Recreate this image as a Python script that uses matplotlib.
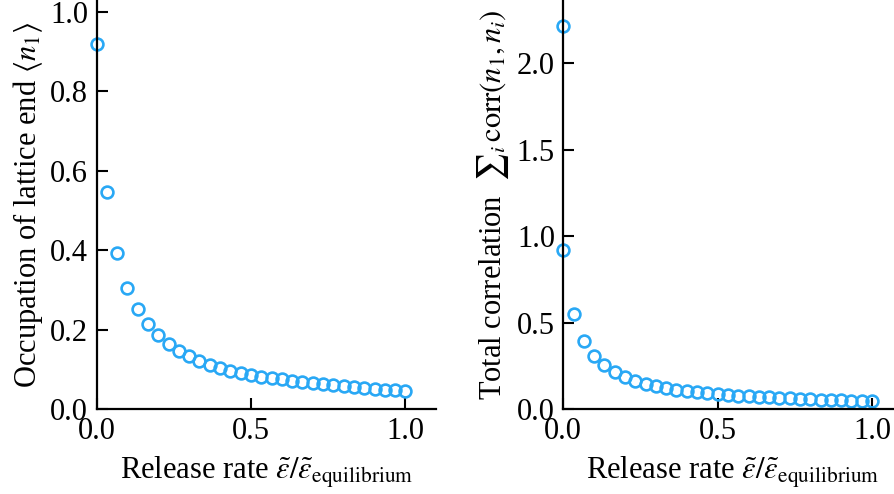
import matplotlib
matplotlib.use("Agg")
import matplotlib.pyplot as plt
import numpy as np

# data
rate = [i / 30 for i in range(31)]
occupation = [0.918, 0.547, 0.393, 0.306, 0.253, 0.215, 0.187, 0.164, 0.147, 0.133,
              0.122, 0.112, 0.104, 0.097, 0.091, 0.086, 0.081, 0.078, 0.075, 0.071,
              0.068, 0.065, 0.062, 0.060, 0.057, 0.055, 0.053, 0.050, 0.049, 0.047,
              0.045]
rate_corr = [0.0] + rate
corr_sum = [2.212, 0.918, 0.547, 0.393, 0.305, 0.253, 0.214, 0.183, 0.162, 0.145,
            0.133, 0.122, 0.112, 0.104, 0.097, 0.091, 0.086, 0.081, 0.078, 0.075,
            0.071, 0.068, 0.065, 0.062, 0.060, 0.057, 0.055, 0.053, 0.050, 0.049,
            0.047, 0.045]

plt.rcParams['font.family'] = ['Liberation Serif', 'DejaVu Serif']
plt.rcParams['mathtext.fontset'] = 'stix'

kleur = '#29a8f5'
grootte = 22

fig = plt.figure(figsize=(8.94, 4.94), dpi=100)
ax1 = fig.add_axes([0.108, 0.172, 0.380, 0.828])
ax2 = fig.add_axes([0.630, 0.172, 0.380, 0.828])


def opmaak(ax):
    for kant in ['top', 'right']:
        ax.spines[kant].set_visible(False)
    for kant in ['left', 'bottom']:
        ax.spines[kant].set_linewidth(1.6)
    ax.tick_params(direction='in', length=8, width=1.5, pad=6, labelsize=grootte)
    ax.set_xlim(0, 1.1)
    ax.set_xticks([0.0, 0.5, 1.0])
    ax.set_xlabel(r'Release rate $\tilde{\epsilon}/\tilde{\epsilon}_{\mathrm{equilibrium}}$',
                  fontsize=grootte, labelpad=6)


ax1.plot(rate, occupation, 'o', mfc='none', mec=kleur, ms=8.5, mew=1.9, clip_on=False)
opmaak(ax1)
ax1.set_ylim(0, 1.03)
ax1.set_yticks(np.arange(0, 1.01, 0.2))
ax1.set_ylabel(r'Occupation of lattice end $\langle n_1 \rangle$', fontsize=grootte, labelpad=4)

ax2.plot(rate_corr, corr_sum, 'o', mfc='none', mec=kleur, ms=8.5, mew=1.9, clip_on=False)
opmaak(ax2)
ax2.set_ylim(0, 2.365)
ax2.set_yticks([0.0, 0.5, 1.0, 1.5, 2.0])
ax2.set_ylabel(r'Total correlation  ${\sum}_i\, \mathrm{corr}(n_1, n_i)$', fontsize=grootte, labelpad=4)

fig.savefig('out.png', dpi=100)
